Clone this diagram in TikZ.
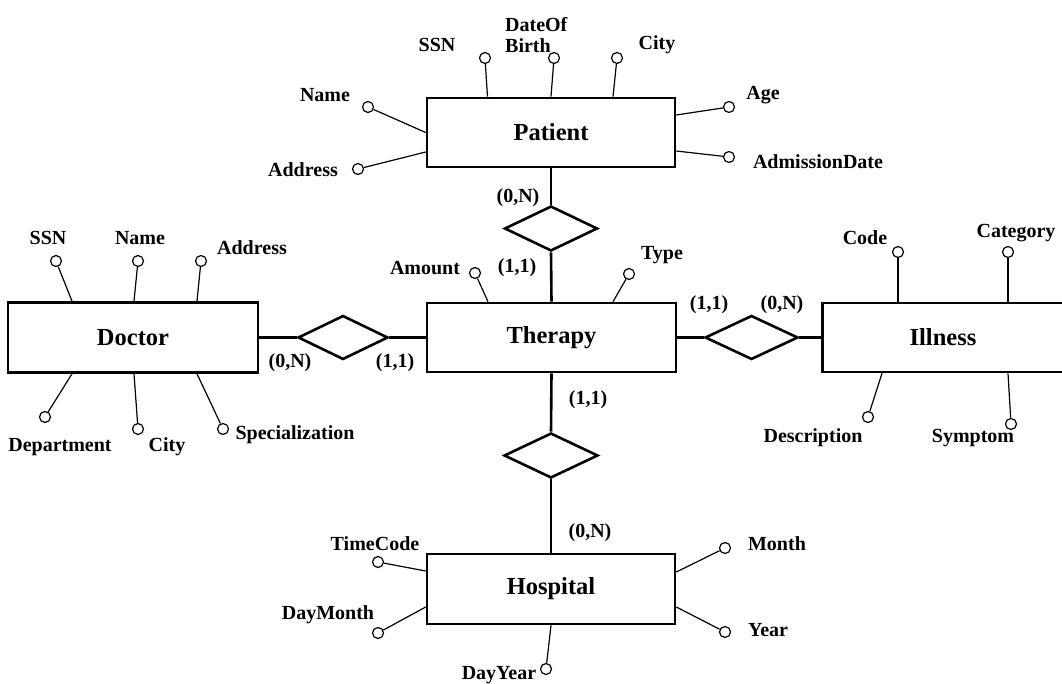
\documentclass[tikz,border=0pt]{standalone}
\usepackage{fontspec}
\setmainfont{Liberation Serif}
\usetikzlibrary{shapes.geometric}
\begin{document}
\begin{tikzpicture}[x=1pt,y=-1pt,
  entity/.style={draw, line width=2.6pt, inner sep=0pt, minimum width=248pt, minimum height=69pt,
    font=\fontsize{24.5}{28}\selectfont\bfseries},
  entitytext/.style={inner sep=0pt, font=\fontsize{24.5}{28}\selectfont\bfseries},
  relation/.style={draw, diamond, line width=2.6pt, inner sep=0pt, minimum width=93pt, minimum height=45pt},
  link/.style={line width=2.6pt},
  attrdot/.style={draw, circle, line width=1.2pt, inner sep=0pt, minimum size=11pt, fill=white},
  attrline/.style={line width=1.2pt},
  lbl/.style={inner sep=0pt, font=\fontsize{20}{21}\selectfont\bfseries},
  card/.style={inner sep=0pt, font=\fontsize{20}{21}\selectfont\bfseries}]
\useasboundingbox (0,0) rectangle (1062,684);
\clip (0,0) rectangle (1062,684);

% ---------- entities ----------
\node[entity] (pat) at (551,132.5) {Patient};
\node[entity, minimum width=249pt] (ther) at (551.5,337.5) {Therapy};
\node[entity, minimum width=250pt, minimum height=70pt] (doc) at (133,337.5) {Doctor};
% Illness runs past the right edge of the page
\node[entity, minimum width=260pt, anchor=west] (ill) at (821,337.5) {};
\node[entitytext] (illname) at (943,337.5) {Illness};
\node[entity, minimum height=70pt] (hos) at (551,589) {Hospital};

% ---------- relationships ----------
\node[relation] (r1) at (551,228.5) {};
\node[relation, minimum width=90pt, minimum height=44pt] (r2) at (343,337.5) {};
\node[relation, minimum height=44pt] (r3) at (751.5,337.5) {};
\node[relation, minimum width=94pt] (r4) at (551,455.5) {};

\draw[link] (pat.south) -- (r1.north);
\draw[link] (r1.south) -- (ther.north);
\draw[link] (doc.east) -- (r2.west);
\draw[link] (r2.east) -- (ther.west);
\draw[link] (ther.east) -- (r3.west);
\draw[link] (r3.east) -- (ill.west);
\draw[link] (ther.south) -- (r4.north);
\draw[link] (r4.south) -- (hos.north);

% ---------- cardinalities ----------
\node[card] (c1) at (518,198) {(0,N)};
\node[card] (c2) at (517,268) {(1,1)};
\node[card] (c3) at (290,363) {(0,N)};
\node[card] (c4) at (395,363) {(1,1)};
\node[card] (c5) at (709,305) {(1,1)};
\node[card] (c6) at (782,305) {(0,N)};
\node[card] (c7) at (588,400) {(1,1)};
\node[card] (c8) at (590,533) {(0,N)};

% ---------- Patient attributes ----------
\node[attrdot] (pssn) at (485,58) {};
\node[attrdot] (pdob) at (554,58) {};
\node[attrdot] (pcity) at (617,58) {};
\node[attrdot] (pname) at (368,107) {};
\node[attrdot] (paddr) at (358,169) {};
\node[attrdot] (page) at (729,107) {};
\node[attrdot] (padm) at (729,157) {};
\draw[attrline] (pssn) -- ([xshift=-63.5pt]pat.north);
\draw[attrline] (pdob) -- (pat.north);
\draw[attrline] (pcity) -- ([xshift=62pt]pat.north);
\draw[attrline] (pname) -- (pat.west);
\draw[attrline] (paddr) -- ([yshift=-19.5pt]pat.west);
\draw[attrline] (page) -- ([yshift=17.5pt]pat.east);
\draw[attrline] (padm) -- ([yshift=-18.5pt]pat.east);
\node[lbl] (lpssn) at (437,45) {SSN};
\node[lbl, align=left, anchor=west] (lpdob) at (505,35) {DateOf\\Birth};
\node[lbl] (lpcity) at (657,45) {City};
\node[lbl] (lpname) at (325,95) {Name};
\node[lbl] (lpaddr) at (303,170) {Address};
\node[lbl] (lpage) at (763,95) {Age};
\node[lbl] (lpadm) at (818,162) {AdmissionDate};

% ---------- Therapy attributes ----------
\node[attrdot] (tamt) at (475,273) {};
\node[attrdot] (ttype) at (629,274) {};
\draw[attrline] (tamt) -- ([xshift=-63.5pt]ther.north);
\draw[attrline] (ttype) -- ([xshift=61.5pt]ther.north);
\node[lbl] (ltamt) at (425,268) {Amount};
\node[lbl] (lttype) at (662,255) {Type};

% ---------- Doctor attributes ----------
\node[attrdot] (dssn) at (56,261) {};
\node[attrdot] (dname) at (138,261) {};
\node[attrdot] (daddr) at (201,261) {};
\node[attrdot] (ddep) at (45,417) {};
\node[attrdot] (dcity) at (138,429) {};
\node[attrdot] (dspec) at (223,429) {};
\draw[attrline] (dssn) -- ([xshift=-61pt]doc.north);
\draw[attrline] (dname) -- ([xshift=1pt]doc.north);
\draw[attrline] (daddr) -- ([xshift=64pt]doc.north);
\draw[attrline] (ddep) -- ([xshift=-61pt]doc.south);
\draw[attrline] (dcity) -- ([xshift=1pt]doc.south);
\draw[attrline] (dspec) -- ([xshift=64pt]doc.south);
\node[lbl] (ldssn) at (48,238) {SSN};
\node[lbl] (ldname) at (140,238) {Name};
\node[lbl] (ldaddr) at (252,248) {Address};
\node[lbl] (lddep) at (60,447) {Department};
\node[lbl] (ldcity) at (167,447) {City};
\node[lbl] (ldspec) at (295,435) {Specialization};

% ---------- Illness attributes ----------
\node[attrdot] (icode) at (898,252) {};
\node[attrdot] (icat) at (1008,252) {};
\node[attrdot] (idesc) at (868,417) {};
\node[attrdot] (isym) at (1011,424) {};
\draw[attrline] (icode) -- ([xshift=77pt]ill.north west);
\draw[attrline] (icat) -- ([xshift=187pt]ill.north west);
\draw[attrline] (idesc) -- ([xshift=61pt]ill.south west);
\draw[attrline] (isym) -- ([xshift=187pt]ill.south west);
\node[lbl] (licode) at (865,238) {Code};
\node[lbl] (licat) at (1016,233) {Category};
\node[lbl] (lidesc) at (813,438) {Description};
\node[lbl] (lisym) at (973,438) {Symptom};

% ---------- Hospital attributes ----------
\node[attrdot] (htc) at (378,562) {};
\node[attrdot] (hdm) at (378,633) {};
\node[attrdot] (hdy) at (546,669) {};
\node[attrdot] (hmon) at (725,548) {};
\node[attrdot] (hyear) at (725,632) {};
\draw[attrline] (htc) -- ([yshift=18pt]hos.west);
\draw[attrline] (hdm) -- ([yshift=-18pt]hos.west);
\draw[attrline] (hdy) -- (hos.south);
\draw[attrline] (hmon) -- ([yshift=17pt]hos.east);
\draw[attrline] (hyear) -- ([yshift=-18pt]hos.east);
\node[lbl] (lhtc) at (375,544) {TimeCode};
\node[lbl] (lhdm) at (328,615) {DayMonth};
\node[lbl] (lhdy) at (499,675) {DayYear};
\node[lbl] (lhmon) at (777,544) {Month};
\node[lbl] (lhyear) at (768,630) {Year};
\end{tikzpicture}
\end{document}
